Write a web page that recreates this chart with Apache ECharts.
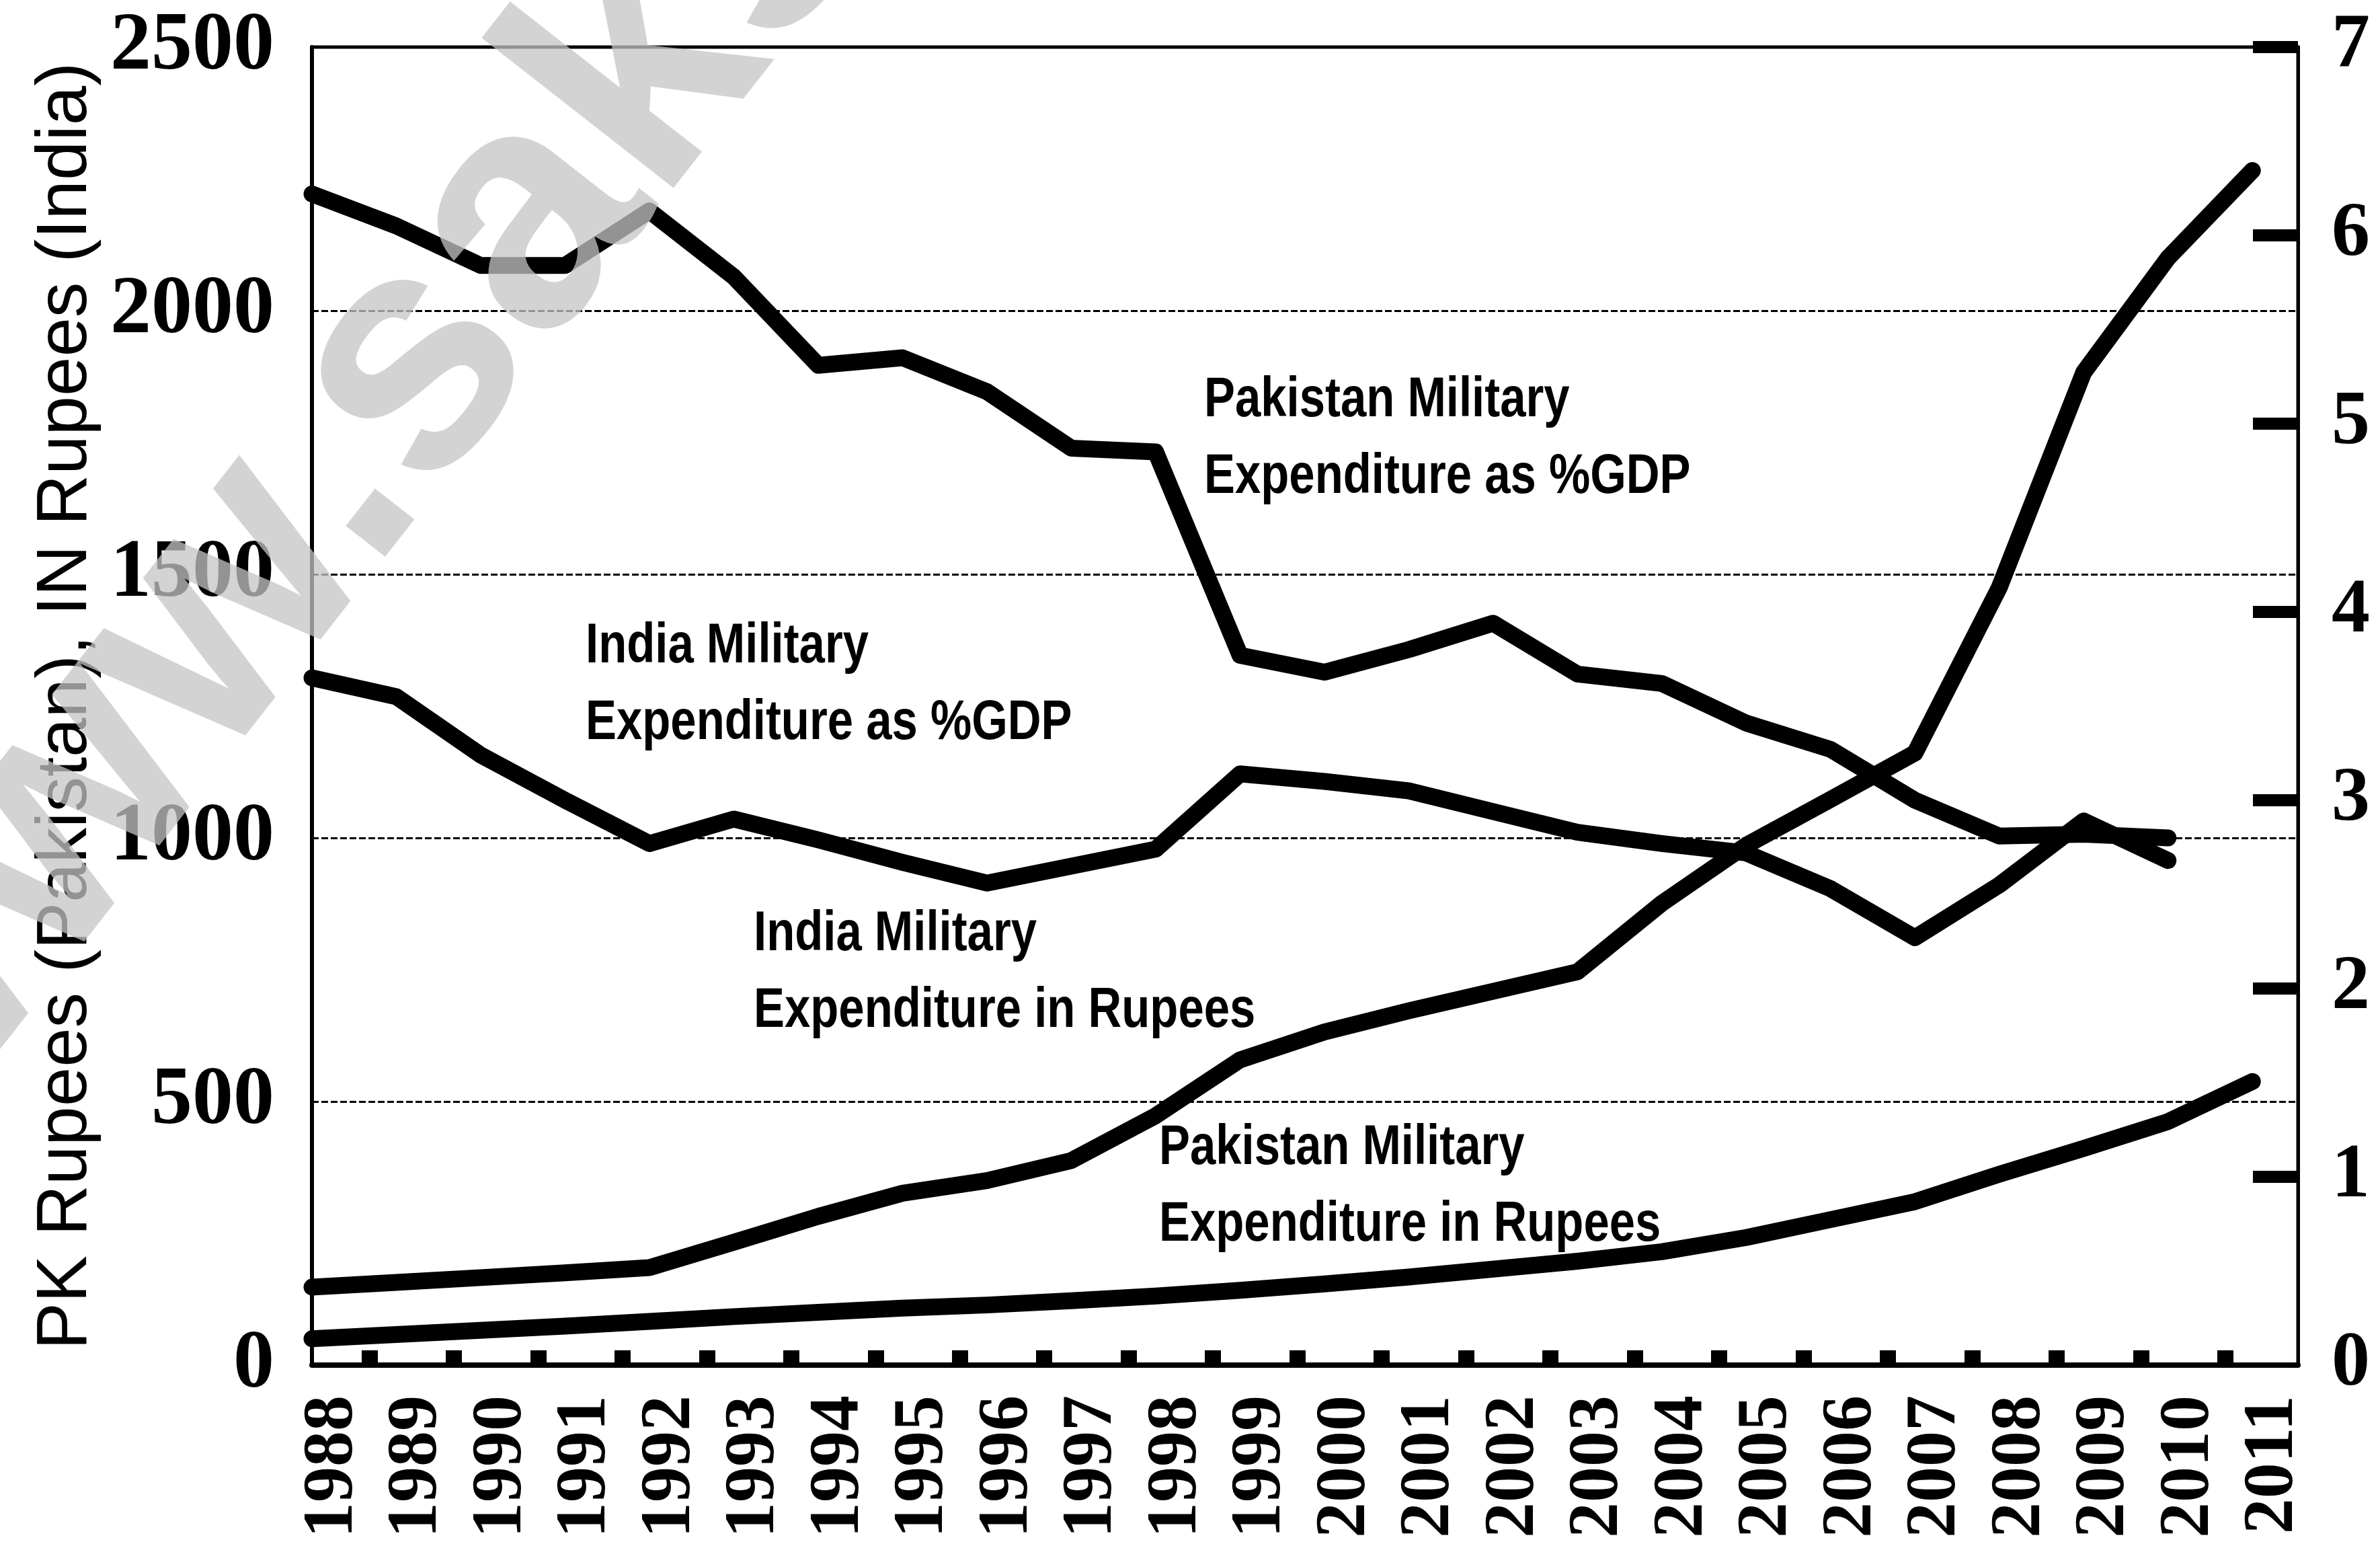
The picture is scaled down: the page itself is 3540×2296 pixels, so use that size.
<!DOCTYPE html>
<html>
<head>
<meta charset="utf-8">
<title>Military expenditure, India and Pakistan</title>
<script src="https://cdn.jsdelivr.net/npm/echarts@6.0.0/dist/echarts.min.js"></script>
<style>
  html, body { margin: 0; padding: 0; background: #fff; }
  #chart { width: 3540px; height: 2296px; }
</style>
</head>
<body>
<div id="chart"></div>
<script>
var years = [1988, 1989, 1990, 1991, 1992, 1993, 1994, 1995, 1996, 1997, 1998, 1999,
             2000, 2001, 2002, 2003, 2004, 2005, 2006, 2007, 2008, 2009, 2010, 2011];

// share of GDP (%), right axis - no value for 2011
var pakGdpShare = [6.22, 6.05, 5.84, 5.84, 6.13, 5.78, 5.31, 5.35, 5.17, 4.87, 4.85, 3.77,
                   3.68, 3.80, 3.94, 3.67, 3.62, 3.41, 3.27, 3.00, 2.81, 2.82, 2.80];
var indGdpShare = [3.65, 3.55, 3.24, 3.00, 2.77, 2.90, 2.79, 2.67, 2.56, 2.65, 2.74, 3.14,
                   3.10, 3.05, 2.94, 2.83, 2.77, 2.72, 2.53, 2.27, 2.55, 2.89, 2.68];

// rupees, left axis
var indRupees = [148, 157, 166, 175, 185, 233, 282, 326, 350, 388, 473, 579,
                 632, 672, 709, 746, 876, 986, 1073, 1161, 1475, 1883, 2100, 2266];
var pakRupees = [50, 58, 66, 74, 83, 92, 100, 108, 114, 122, 131, 142,
                 154, 167, 182, 197, 215, 242, 276, 310, 362, 411, 462, 538];

var rupeeTicks = [0, 500, 1000, 1500, 2000, 2500];
var shareTicks = [0, 1, 2, 3, 4, 5, 6, 7];

var notes = [
  'Pakistan Military\nExpenditure as %GDP',
  'India Military\nExpenditure as %GDP',
  'India Military\nExpenditure in Rupees',
  'Pakistan Military\nExpenditure in Rupees'
];

function pairs(vals) {
  return vals.map(function (v, i) { return [years[i], v]; });
}

function thickLine(name, vals, axis) {
  return {
    name: name,
    type: 'line',
    yAxisIndex: axis,
    data: pairs(vals),
    symbol: 'none',
    silent: true,
    lineStyle: { color: '#000', width: 25, join: 'round', cap: 'round' }
  };
}

function note(text, x, y) {
  return {
    type: 'text',
    x: x,
    y: y,
    scaleX: 0.82,
    z: 50,
    style: {
      text: text,
      fill: '#000',
      font: 'bold 84px "Liberation Sans", Arial, sans-serif',
      lineHeight: 114,
      verticalAlign: 'top',
      align: 'left'
    }
  };
}

var chart = echarts.init(document.getElementById('chart'));

chart.setOption({
  backgroundColor: '#fff',
  animation: false,
  grid: {
    left: 464, right: 122, top: 70, bottom: 266,
    show: true, borderColor: '#000', borderWidth: 5
  },
  xAxis: {
    type: 'value',
    min: years[0],
    max: years[years.length - 1] + 0.54,
    axisLine: { show: true, lineStyle: { color: '#000', width: 8 } },
    axisTick: {
      show: true, inside: true, length: 22,
      customValues: years.slice(0, -1).map(function (y) { return y + 0.68; }),
      lineStyle: { color: '#000', width: 24 }
    },
    axisLabel: {
      customValues: years.map(function (y) { return y + 0.25; }),
      formatter: function (v) { return String(Math.floor(v)); },
      rotate: 90,
      margin: 45,
      color: '#000',
      fontFamily: '"Liberation Serif", serif',
      fontWeight: 'bold',
      fontSize: 106
    },
    splitLine: { show: false }
  },
  yAxis: [
    {
      type: 'value',
      position: 'left',
      min: rupeeTicks[0],
      max: rupeeTicks[rupeeTicks.length - 1],
      interval: rupeeTicks[1] - rupeeTicks[0],
      name: 'PK Rupees (Pakistan), IN Rupees (India)',
      nameLocation: 'middle',
      nameRotate: 90,
      nameGap: 312,
      nameTextStyle: { color: '#000', fontFamily: '"Liberation Sans", Arial, sans-serif', fontSize: 105 },
      axisLine: { show: true, lineStyle: { color: '#000', width: 6 } },
      axisTick: { show: false },
      axisLabel: {
        margin: 56, color: '#000',
        formatter: function (v) { return String(v); },
        fontFamily: '"Liberation Serif", serif', fontWeight: 'bold', fontSize: 122
      },
      splitLine: { show: true, lineStyle: { color: '#000', width: 3, type: [10, 4] } }
    },
    {
      type: 'value',
      position: 'right',
      min: shareTicks[0],
      max: shareTicks[shareTicks.length - 1],
      interval: shareTicks[1] - shareTicks[0],
      axisLine: { show: true, lineStyle: { color: '#000', width: 5 } },
      axisTick: {
        show: true, inside: true, length: 67,
        customValues: shareTicks.slice(1),
        lineStyle: { color: '#000', width: 18 }
      },
      axisLabel: {
        margin: 50, color: '#000',
        fontFamily: '"Liberation Serif", serif', fontWeight: 'bold', fontSize: 114
      },
      splitLine: { show: false }
    }
  ],
  series: [
    thickLine('Pakistan Military Expenditure as %GDP', pakGdpShare, 1),
    thickLine('India Military Expenditure as %GDP', indGdpShare, 1),
    thickLine('India Military Expenditure in Rupees', indRupees, 0),
    thickLine('Pakistan Military Expenditure in Rupees', pakRupees, 0)
  ],
  graphic: [
    note(notes[0], 1791, 539),
    note(notes[1], 871, 905),
    note(notes[2], 1121, 1333),
    note(notes[3], 1724, 1651),
    {
      // scan watermark
      type: 'text',
      x: -264, y: 1674,
      rotation: 0.907,
      z: 100,
      silent: true,
      style: {
        text: 'www.sakshieducation.com',
        fill: 'rgba(196,196,196,0.75)',
        font: 'bold 500px "Liberation Sans", Arial, sans-serif',
        verticalAlign: 'middle',
        align: 'left'
      }
    }
  ]
});
</script>
</body>
</html>
